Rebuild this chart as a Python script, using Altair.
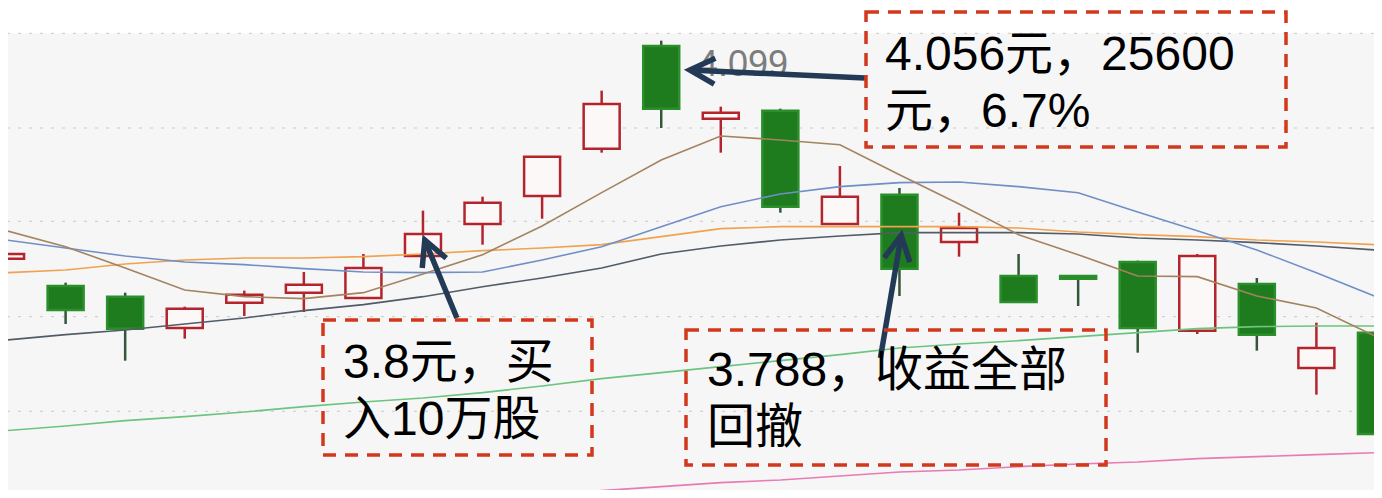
import altair as alt
import pandas as pd

# ---------------- data ----------------
idx    = list(range(-1, 23))
opens  = [3.772, 3.731, 3.715, 3.668, 3.706, 3.721, 3.713, 3.776, 3.824, 3.866, 3.937, 4.091,
          3.982, 3.994, 3.824, 3.868, 3.797, 3.746, 3.746, 3.767, 3.664, 3.734, 3.608, 3.661]
closes = [3.779, 3.695, 3.667, 3.697, 3.718, 3.733, 3.758, 3.809, 3.856, 3.925, 4.004, 3.997,
          3.991, 3.850, 3.865, 3.757, 3.818, 3.707, 3.742, 3.668, 3.776, 3.658, 3.638, 3.509]
highs  = [3.781, 3.736, 3.721, 3.700, 3.724, 3.752, 3.779, 3.844, 3.865, 3.926, 4.024, 4.099,
          4.000, 3.997, 3.911, 3.878, 3.841, 3.779, 3.746, 3.769, 3.779, 3.743, 3.676, 3.673]
lows   = [3.770, 3.674, 3.619, 3.652, 3.686, 3.692, 3.712, 3.770, 3.793, 3.832, 3.931, 3.968,
          3.931, 3.841, 3.823, 3.716, 3.775, 3.706, 3.701, 3.631, 3.659, 3.634, 3.568, 3.500]

ma5   = [3.814, 3.790, 3.758, 3.725, 3.715, 3.712, 3.721, 3.749, 3.778, 3.821, 3.871, 3.920,
         3.956, 3.950, 3.943, 3.898, 3.854, 3.808, 3.778, 3.746, 3.745, 3.716, 3.698, 3.655]
ma10  = [3.800, 3.788, 3.776, 3.767, 3.763, 3.757, 3.752, 3.751, 3.752, 3.770, 3.790, 3.820,
         3.850, 3.869, 3.880, 3.886, 3.887, 3.880, 3.871, 3.842, 3.814, 3.785, 3.751, 3.715]
ma20  = [3.751, 3.755, 3.764, 3.770, 3.773, 3.773, 3.775, 3.779, 3.784, 3.788, 3.793, 3.805,
         3.817, 3.820, 3.820, 3.820, 3.820, 3.818, 3.812, 3.808, 3.805, 3.800, 3.797, 3.793]
ma30  = [3.650, 3.658, 3.665, 3.674, 3.683, 3.694, 3.703, 3.715, 3.730, 3.743, 3.758, 3.779,
         3.791, 3.800, 3.806, 3.811, 3.811, 3.811, 3.809, 3.803, 3.800, 3.796, 3.791, 3.785]
ma60  = [3.514, 3.521, 3.529, 3.535, 3.542, 3.550, 3.557, 3.563, 3.571, 3.581, 3.592, 3.601,
         3.610, 3.619, 3.628, 3.638, 3.644, 3.649, 3.655, 3.661, 3.667, 3.670, 3.671, 3.671]
ma120 = [3.370, 3.377, 3.383, 3.389, 3.395, 3.398, 3.401, 3.407, 3.413, 3.418, 3.424, 3.430,
         3.436, 3.440, 3.446, 3.452, 3.455, 3.460, 3.464, 3.467, 3.472, 3.475, 3.478, 3.481]

grid_levels = [4.110, 3.968, 3.828, 3.685, 3.543]

peak_label = "4.099"

# arrows: tail (index, price) -> tip (index, price)
arrow_tail_i = [13.42, 6.57, 13.68]
arrow_tail_p = [4.043, 3.683, 3.623]
arrow_tip_i  = [10.48, 6.03, 14.03]
arrow_tip_p  = [4.055, 3.800, 3.807]

note_lines = ["4.056元，25600", "元，6.7%",
              "3.8元，买", "入10万股",
              "3.788，收益全部", "回撤"]

# ---------------- styling / layout ----------------
W, H = 1366, 482
FONT = "Liberation Sans, Arial, Noto Sans CJK SC"
RED = "#b3242c"
GREEN_FILL = "#1e7b1e"
GREEN_EDGE = "#2b8f2b"
GREEN_WICK = "#33573a"
NAVY = "#233a56"
BOXRED = "#d2391c"

xs = alt.Scale(domain=[-0.8833, 21.8833])
ys = alt.Scale(domain=[3.425, 4.148], zero=False, nice=False)

df = pd.DataFrame({"i": idx, "open": opens, "close": closes, "high": highs, "low": lows})
up = "datum.close >= datum.open"

bg = alt.Chart(pd.DataFrame({"top": [grid_levels[0]]})).mark_rect(color="#f6f6f7").encode(
    x=alt.value(0), x2=alt.value(W),
    y=alt.Y("top:Q", scale=ys, axis=None), y2=alt.value(H))

grid = alt.Chart(pd.DataFrame({"g": grid_levels})).mark_rule(
    color="#c9c9c9", strokeWidth=1, strokeDash=[3, 8]).encode(
    y=alt.Y("g:Q", scale=ys, axis=None))

wick = alt.Chart(df).mark_rule(strokeWidth=2.5, clip=True).encode(
    x=alt.X("i:Q", scale=xs, axis=None),
    y=alt.Y("low:Q", scale=ys, axis=None), y2="high:Q",
    color=alt.condition(up, alt.value(RED), alt.value(GREEN_WICK)))

body = alt.Chart(df).mark_bar(size=36, strokeWidth=2.5, clip=True).encode(
    x=alt.X("i:Q", scale=xs, axis=None),
    y=alt.Y("open:Q", scale=ys, axis=None), y2="close:Q",
    fill=alt.condition(up, alt.value("#fdf8f8"), alt.value(GREEN_FILL)),
    stroke=alt.condition(up, alt.value(RED), alt.value(GREEN_EDGE)))

line_layers = []
for vals, col in [(ma120, "#e97ab2"), (ma60, "#6cc47f"), (ma30, "#525c66"),
                  (ma20, "#f0a24e"), (ma10, "#6f8fc6"), (ma5, "#a4835f")]:
    ldf = pd.DataFrame({"i": idx, "v": vals})
    line_layers.append(alt.Chart(ldf).mark_line(color=col, strokeWidth=1.6, clip=True).encode(
        x=alt.X("i:Q", scale=xs, axis=None), y=alt.Y("v:Q", scale=ys, axis=None)))

peak = alt.Chart(pd.DataFrame({"t": [peak_label]})).mark_text(
    align="left", baseline="alphabetic", fontSize=36, font=FONT, color="#7d7d7d").encode(
    x=alt.value(690), y=alt.value(68), text="t:N")

adf = pd.DataFrame({"ti": arrow_tail_i, "tp": arrow_tail_p, "hi": arrow_tip_i, "hp": arrow_tip_p,
                    "ang": [272.6, 337.7, 9.7]})
shaft = alt.Chart(adf).mark_rule(strokeWidth=5.5, color=NAVY, strokeCap="butt").encode(
    x=alt.X("ti:Q", scale=xs, axis=None), y=alt.Y("tp:Q", scale=ys, axis=None),
    x2="hi:Q", y2="hp:Q")
head = alt.Chart(adf).mark_point(shape="M -0.52 1 L 0 0 L 0.52 1", size=2500, filled=False,
                                 strokeWidth=5.5, color=NAVY, opacity=1, strokeJoin="miter",
                                 strokeCap="butt").encode(
    x=alt.X("hi:Q", scale=xs, axis=None), y=alt.Y("hp:Q", scale=ys, axis=None),
    angle=alt.Angle("ang:Q", scale=None))

boxes = pd.DataFrame({"x0": [858, 315, 678], "x1": [1278, 584, 1098],
                      "y0": [4, 312, 322], "y1": [139, 447, 457]})
box = alt.Chart(boxes).mark_rect(fillOpacity=0, stroke=BOXRED, strokeWidth=3.5,
                                 strokeDash=[13, 9]).encode(
    x=alt.X("x0:Q", scale=None), x2="x1:Q", y=alt.Y("y0:Q", scale=None), y2="y1:Q")

tdf = pd.DataFrame({"t": note_lines,
                    "x": [877, 877, 335, 335, 699, 699],
                    "y": [62, 119, 370, 427, 378, 435]})
notes = alt.Chart(tdf).mark_text(align="left", baseline="alphabetic", fontSize=48,
                                 font=FONT, color="#000000").encode(
    x=alt.X("x:Q", scale=None), y=alt.Y("y:Q", scale=None), text="t:N")

chart = alt.layer(bg, grid, wick, body, *line_layers, peak, shaft, head, box, notes).properties(
    width=W, height=H, padding=0, background="#ffffff",
    autosize=alt.AutoSizeParams(type="none")
).configure_view(strokeWidth=0)

chart.save("out.html", embed_options={"renderer": "svg", "actions": False})
